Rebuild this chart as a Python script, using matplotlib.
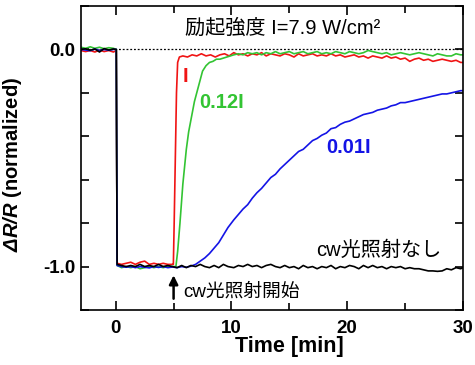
import matplotlib
matplotlib.use("Agg")
import matplotlib.pyplot as plt
from matplotlib.ticker import FixedLocator, FixedFormatter, MultipleLocator

plt.rcParams["font.family"] = ["Liberation Sans", "Noto Sans CJK JP"]
plt.rcParams["mathtext.fontset"] = "custom"
plt.rcParams["mathtext.bfit"] = "Liberation Sans:italic:bold"
plt.rcParams["mathtext.it"] = "Liberation Sans:italic"
plt.rcParams["mathtext.rm"] = "Liberation Sans"

# ---------------- data ----------------
t_pre = [-3.0, -2.6, -2.2, -1.8, -1.4, -1.0, -0.6, -0.2, 0.05]
t_flat = [0.12, 0.5, 0.9, 1.3, 1.7, 2.1, 2.5, 2.9, 3.3, 3.7, 4.1, 4.5, 4.9]
t_tail = [10.2, 10.6, 11.0, 11.4, 11.8, 12.2, 12.6, 13.0, 13.4, 13.8,
          14.2, 14.6, 15.0, 15.4, 15.8, 16.2, 16.6, 17.0, 17.4, 17.8,
          18.2, 18.6, 19.0, 19.4, 19.8, 20.2, 20.6, 21.0, 21.4, 21.8,
          22.2, 22.6, 23.0, 23.4, 23.8, 24.2, 24.6, 25.0, 25.4, 25.8,
          26.2, 26.6, 27.0, 27.4, 27.8, 28.2, 28.6, 29.0, 29.4, 29.8,
          30.0]

# I (red)
red_pre = [-0.005, -0.01, -0.005, -0.012, -0.003, -0.01, -0.005, -0.012, -0.005]
red_flat = [-0.985, -0.99, -0.985, -0.98, -0.99, -0.98, -0.975, -0.99, -0.985,
            -0.99, -0.985, -0.99, -0.99]
red_mid_t = [4.98, 5.05, 5.15, 5.25, 5.35, 5.5, 5.8, 6.2, 6.6, 7.0, 7.4, 7.8,
             8.2, 8.6, 9.0, 9.4, 9.8]
red_mid = [-0.99, -0.80, -0.50, -0.20, -0.06, -0.035, -0.03, -0.035, -0.025,
           -0.03, -0.02, -0.03, -0.025, -0.035, -0.025, -0.02, -0.03]
red_tail = [-0.015, -0.025, -0.02, -0.03, -0.02, -0.025, -0.015, -0.03, -0.02, -0.025,
            -0.03, -0.02, -0.025, -0.035, -0.02, -0.03, -0.025, -0.02, -0.03, -0.025,
            -0.03, -0.02, -0.03, -0.025, -0.035, -0.03, -0.025, -0.035, -0.03, -0.04,
            -0.03, -0.035, -0.04, -0.03, -0.04, -0.035, -0.045, -0.04, -0.055, -0.045,
            -0.04, -0.05, -0.045, -0.055, -0.05, -0.045, -0.05, -0.055, -0.05, -0.06,
            -0.06]

# 0.12I (green)
green_pre = [0.01, 0.005, 0.012, 0.005, 0.01, 0.003, 0.008, 0.005, 0.0]
green_flat = [-0.995, -1.005, -1.0, -1.005, -1.0, -1.01, -1.005, -1.0, -1.005,
              -1.0, -1.005, -1.0, -1.0]
green_mid_t = [5.2, 5.35, 5.55, 5.8, 6.1, 6.3, 6.55, 6.8, 7.0, 7.25, 7.5, 7.8,
               8.1, 8.4, 8.7, 9.0, 9.3, 9.6, 9.9]
green_mid = [-1.0, -0.93, -0.80, -0.62, -0.46, -0.38, -0.31, -0.24, -0.20, -0.15,
             -0.10, -0.075, -0.06, -0.055, -0.045, -0.045, -0.04, -0.035, -0.03]
green_tail = [-0.025, -0.02, -0.025, -0.015, -0.02, -0.015, -0.025, -0.015, -0.02, -0.01,
              -0.02, -0.015, -0.01, -0.02, -0.015, -0.01, -0.02, -0.015, -0.01, -0.02,
              -0.015, -0.02, -0.01, -0.015, -0.02, -0.01, -0.015, -0.02, -0.015, -0.005,
              -0.01, -0.015, -0.02, -0.015, -0.025, -0.02, -0.015, -0.02, -0.025, -0.02,
              -0.015, -0.02, -0.025, -0.03, -0.02, -0.025, -0.03, -0.03, -0.02, -0.025,
              -0.025]

# 0.01I (blue)
blue_pre = [0.0, -0.003, -0.006, 0.002, -0.005, 0.0, -0.004, 0.0, 0.0]
blue_flat = [-0.995, -1.0, -1.003, -1.0, -1.005, -1.0, -1.003, -1.006, -1.0,
             -1.004, -1.0, -1.005, -1.002]
blue_mid_t = [5.3, 5.7, 6.1, 6.5, 6.9, 7.3, 7.7, 8.1, 8.5, 8.9, 9.3, 9.7]
blue_mid = [-1.005, -1.0, -1.003, -0.998, -0.99, -0.975, -0.96, -0.94, -0.915,
            -0.89, -0.855, -0.82]
blue_tail = [-0.785, -0.76, -0.735, -0.715, -0.685, -0.66, -0.64, -0.615, -0.59, -0.575,
             -0.55, -0.53, -0.51, -0.49, -0.47, -0.46, -0.44, -0.42, -0.41, -0.395,
             -0.385, -0.365, -0.36, -0.345, -0.335, -0.33, -0.32, -0.31, -0.30, -0.295,
             -0.29, -0.28, -0.275, -0.27, -0.26, -0.255, -0.245, -0.245, -0.24, -0.235,
             -0.23, -0.225, -0.22, -0.215, -0.21, -0.205, -0.205, -0.2, -0.195, -0.19,
             -0.19]

# no cw light (black)
black_pre = [0.0, 0.003, -0.004, 0.002, -0.012, 0.004, -0.003, 0.002, 0.0]
black_flat = [-0.99, -0.995, -1.0, -0.995, -1.0, -0.99, -1.0, -0.995, -1.0,
              -0.99, -1.0, -0.995, -1.0]
black_mid_t = [5.3, 5.7, 6.1, 6.5, 6.9, 7.3, 7.7, 8.1, 8.5, 8.9, 9.3, 9.7]
black_mid = [-1.005, -0.995, -1.005, -0.995, -1.0, -0.99, -1.0, -1.005, -0.995,
             -1.005, -0.99, -1.0]
black_tail = [-1.005, -0.995, -1.0, -0.99, -1.0, -0.995, -1.005, -0.995, -0.99, -1.0,
              -1.005, -0.995, -1.005, -1.0, -1.01, -0.995, -1.005, -1.0, -1.01, -1.0,
              -1.005, -0.995, -1.01, -1.0, -1.005, -0.995, -1.0, -1.01, -0.995, -1.005,
              -0.995, -1.005, -1.0, -1.01, -1.0, -1.005, -1.0, -1.01, -1.005, -1.01,
              -1.01, -1.015, -1.02, -1.02, -1.022, -1.02, -1.01, -1.015, -1.005, -1.01,
              -1.005]

series = [
    ("I", "#f01414", red_pre, red_flat, red_mid_t, red_mid, red_tail),
    ("0.12I", "#33c433", green_pre, green_flat, green_mid_t, green_mid, green_tail),
    ("0.01I", "#1414e6", blue_pre, blue_flat, blue_mid_t, blue_mid, blue_tail),
    ("none", "black", black_pre, black_flat, black_mid_t, black_mid, black_tail),
]

x_major = [0, 10, 20, 30]
y_major = [0.0, -1.0]
y_labels = ["0.0", "-1.0"]

fig = plt.figure(figsize=(4.75, 3.65), dpi=100)
ax = fig.add_axes([0.1705, 0.1507, 0.8042, 0.8329])

for name, color, pre, flat, mid_t, mid, tail in series:
    t = t_pre + t_flat + mid_t + t_tail
    v = pre + flat + mid + tail
    ax.plot(t, v, color=color, lw=1.2)

ax.axhline(0.0, color="black", lw=0.9, ls=(0, (1.5, 1.5)), zorder=0)

ax.set_xlim(-3, 30)
ax.set_ylim(-1.2, 0.2)

ax.xaxis.set_major_locator(FixedLocator(x_major))
ax.xaxis.set_minor_locator(MultipleLocator(5))
ax.yaxis.set_major_locator(FixedLocator(y_major))
ax.yaxis.set_major_formatter(FixedFormatter(y_labels))
ax.yaxis.set_minor_locator(MultipleLocator(0.2))

ax.tick_params(which="both", direction="in", top=True, right=True, width=1.2)
ax.tick_params(axis="x", which="major", length=6.5, pad=7.5)
ax.tick_params(axis="x", which="minor", length=5)
ax.tick_params(axis="y", which="both", length=5.5, pad=4)
for lab in ax.get_xticklabels() + ax.get_yticklabels():
    lab.set_fontsize(13.5)
    lab.set_fontweight("bold")
for sp in ax.spines.values():
    sp.set_linewidth(1.2)

ax.set_xlabel("Time [min]", fontsize=15.5, fontweight="bold")
ax.xaxis.set_label_coords(0.545, -0.085)
ax.set_ylabel(r"$\mathbfit{\Delta R/R}$ (normalized)", fontsize=14.5, fontweight="bold")
ax.yaxis.set_label_coords(-0.15, 0.48)

# annotations
ax.text(5.95, 0.10, "励起強度 I=7.9 W/cm²", fontsize=14.5, va="center")
ax.text(5.75, -0.125, "I", color="#f01414", fontsize=14.5, fontweight="bold", va="center")
ax.text(7.25, -0.245, "0.12I", color="#33c433", fontsize=14.5, fontweight="bold", va="center")
ax.text(18.15, -0.45, "0.01I", color="#1414e6", fontsize=14.5, fontweight="bold", va="center")
ax.text(17.3, -0.925, "cw光照射なし", fontsize=14.5, va="center")
ax.text(5.8, -1.115, "cw光照射開始", fontsize=13.5, va="center")
ax.annotate("", xy=(5.0, -1.04), xytext=(5.0, -1.148),
            arrowprops=dict(arrowstyle="-|>", color="black", lw=1.8,
                            mutation_scale=13, shrinkA=0, shrinkB=0))

fig.savefig("out.png", dpi=100)
